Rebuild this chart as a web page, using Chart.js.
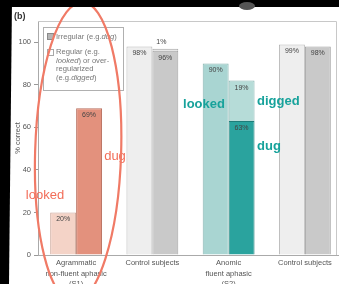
<!DOCTYPE html>
<html>
<head>
<meta charset="utf-8">
<script src="https://cdn.jsdelivr.net/npm/chart.js@4"></script>
<style>
  html, body { margin: 0; padding: 0; background: #fff; overflow: hidden; }
</style>
</head>
<body>
<canvas id="chart" width="350" height="284"></canvas>
<script>
// data
const groups = [
  ['Agrammatic', 'non-fluent aphasic', '(S1)'],
  'Control subjects',
  ['Anomic', 'fluent aphasic', '(S2)'],
  'Control subjects'
];
const regularPct = [20, 98, 90, 99];     // "looked"
const irregularPct = [69, 96, 63, 98];   // "dug"
const overRegPct = [0, 1, 19, 0];        // "digged"
const yTicks = [0, 20, 40, 60, 80, 100];

const regularFill = ['#f4d3c7', '#eeeeee', '#a9d5d2', '#eeeeee'];
const regularEdge = ['#caa497', '#b8b8b8', '#86b4b0', '#b8b8b8'];
const irregularFill = ['#e3917d', '#c9c9c9', '#2aa39e', '#c9c9c9'];
const irregularEdge = ['#b86f5e', '#a0a0a0', '#1e7d79', '#a0a0a0'];
const overRegFill = ['#e3917d', '#dcdcdc', '#b6dcd8', '#c9c9c9'];
const overRegEdge = ['#b86f5e', '#a8a8a8', '#84b3af', '#a0a0a0'];

const FONT = '"Liberation Sans", Arial, sans-serif';
const labelGrey = '#555';

// percent labels at the top of each bar segment
const pctLabels = {
  id: 'pctLabels',
  afterDatasetsDraw(chart) {
    const ctx = chart.ctx;
    ctx.save();
    ctx.font = '7px ' + FONT;
    ctx.fillStyle = '#444';
    ctx.textAlign = 'center';
    ctx.textBaseline = 'middle';
    chart.data.datasets.forEach((ds, di) => {
      const meta = chart.getDatasetMeta(di);
      meta.data.forEach((bar, i) => {
        const v = ds.data[i];
        if (!v) return;
        if (v < 5) {
          ctx.fillText(v + '%', bar.x - 4, bar.y - 7);
        } else {
          ctx.fillText(v + '%', bar.x, bar.y + 7);
        }
      });
    });
    ctx.restore();
  }
};

// frame, legend box, annotations, photo borders
const decor = {
  id: 'decor',
  afterDraw(chart) {
    const ctx = chart.ctx;
    const a = chart.chartArea;
    const x = chart.scales.x;
    ctx.save();

    // top and right frame lines
    ctx.strokeStyle = '#c8c8c8';
    ctx.lineWidth = 1;
    ctx.beginPath();
    ctx.moveTo(a.left, a.top + 0.5);
    ctx.lineTo(336.5, a.top + 0.5);
    ctx.lineTo(336.5, a.bottom);
    ctx.stroke();

    // legend
    ctx.strokeStyle = '#b0b0b0';
    ctx.strokeRect(43.5, 27.5, 80, 63);
    ctx.fillStyle = '#b5b5b5';
    ctx.fillRect(47, 33, 7, 7);
    ctx.strokeStyle = '#8a8a8a';
    ctx.strokeRect(47.5, 33.5, 6, 6);
    ctx.fillStyle = '#fff';
    ctx.fillRect(47, 49, 7, 7);
    ctx.strokeStyle = '#a8a8a8';
    ctx.strokeRect(47.5, 49.5, 6, 6);

    ctx.fillStyle = '#777';
    ctx.textBaseline = 'middle';
    ctx.textAlign = 'left';
    const runs = [
      [56, 37, [['Irregular (e.g.', ''], ['dug', 'italic '], [')', '']]],
      [56, 52, [['Regular (e.g.', '']]],
      [56, 60.5, [['looked', 'italic '], [') or over-', '']]],
      [56, 69, [['regularized', '']]],
      [56, 77.5, [['(e.g.', ''], ['digged', 'italic '], [')', '']]]
    ];
    runs.forEach(([lx, ly, parts]) => {
      let cx = lx;
      parts.forEach(([t, style]) => {
        ctx.font = style + '7.6px ' + FONT;
        ctx.fillText(t, cx, ly);
        cx += ctx.measureText(t).width;
      });
    });

    // panel letter
    ctx.fillStyle = '#333';
    ctx.font = 'bold 9px ' + FONT;
    ctx.fillText('(b)', 14, 17);

    // red annotations for the agrammatic group
    ctx.fillStyle = '#f26d58';
    ctx.font = '13px ' + FONT;
    ctx.textAlign = 'center';
    ctx.fillText('looked', 45, 195);
    ctx.fillText('dug', 115, 156);

    // teal annotations for the anomic group
    ctx.fillStyle = '#17a29b';
    ctx.font = 'bold 13px ' + FONT;
    ctx.fillText('looked', 204, 104);
    ctx.textAlign = 'left';
    ctx.fillText('digged', 257, 101);
    ctx.fillText('dug', 257, 146);

    // hand-drawn oval
    ctx.strokeStyle = '#f07a66';
    ctx.lineWidth = 2.2;
    ctx.beginPath();
    ctx.ellipse(x.getPixelForValue(0) + 2, 152, 43, 150, 0.03, 0, Math.PI * 2);
    ctx.stroke();

    // dark photo borders
    ctx.fillStyle = '#000';
    ctx.fillRect(0, 0, chart.width, 7);
    ctx.beginPath();
    ctx.moveTo(0, 0);
    ctx.lineTo(12, 0);
    ctx.lineTo(9, chart.height);
    ctx.lineTo(0, chart.height);
    ctx.closePath();
    ctx.fill();
    ctx.fillStyle = '#555';
    ctx.beginPath();
    ctx.ellipse(247, 6, 8, 4, 0, 0, Math.PI * 2);
    ctx.fill();

    ctx.restore();
  }
};

new Chart(document.getElementById('chart'), {
  type: 'bar',
  data: {
    labels: groups,
    datasets: [
      {
        label: 'Regular (looked)',
        data: regularPct,
        stack: 'reg',
        backgroundColor: regularFill,
        borderColor: regularEdge,
        borderWidth: 1
      },
      {
        label: 'Irregular (dug)',
        data: irregularPct,
        stack: 'irr',
        backgroundColor: irregularFill,
        borderColor: irregularEdge,
        borderWidth: 1
      },
      {
        label: 'Over-regularized (digged)',
        data: overRegPct,
        stack: 'irr',
        backgroundColor: overRegFill,
        borderColor: overRegEdge,
        borderWidth: c => (c.raw > 0 ? 1 : 0)
      }
    ]
  },
  options: {
    responsive: false,
    animation: false,
    layout: { padding: { left: 0, right: 7, top: 21, bottom: 0 } },
    categoryPercentage: 0.68,
    barPercentage: 1,
    plugins: {
      legend: { display: false },
      tooltip: { enabled: false }
    },
    scales: {
      x: {
        stacked: true,
        grid: { display: false, drawTicks: false },
        border: { color: '#aaa' },
        ticks: {
          color: labelGrey,
          font: { family: FONT, size: 7.5, lineHeight: 1.4 },
          padding: 3,
          maxRotation: 0,
          autoSkip: false
        },
        afterFit: s => { s.height = 29; }
      },
      y: {
        stacked: true,
        min: 0,
        max: 110,
        afterBuildTicks: s => { s.ticks = yTicks.map(v => ({ value: v })); },
        grid: { drawOnChartArea: false, tickLength: 4, color: '#999' },
        border: { color: '#aaa' },
        ticks: {
          color: labelGrey,
          font: { family: FONT, size: 7.5 },
          padding: 3
        },
        title: {
          display: true,
          text: '% correct',
          color: labelGrey,
          font: { family: FONT, size: 7.5 },
          padding: { top: 13, bottom: 0 }
        },
        afterFit: s => { s.width = 38; }
      }
    }
  },
  plugins: [pctLabels, decor]
});
</script>
</body>
</html>
